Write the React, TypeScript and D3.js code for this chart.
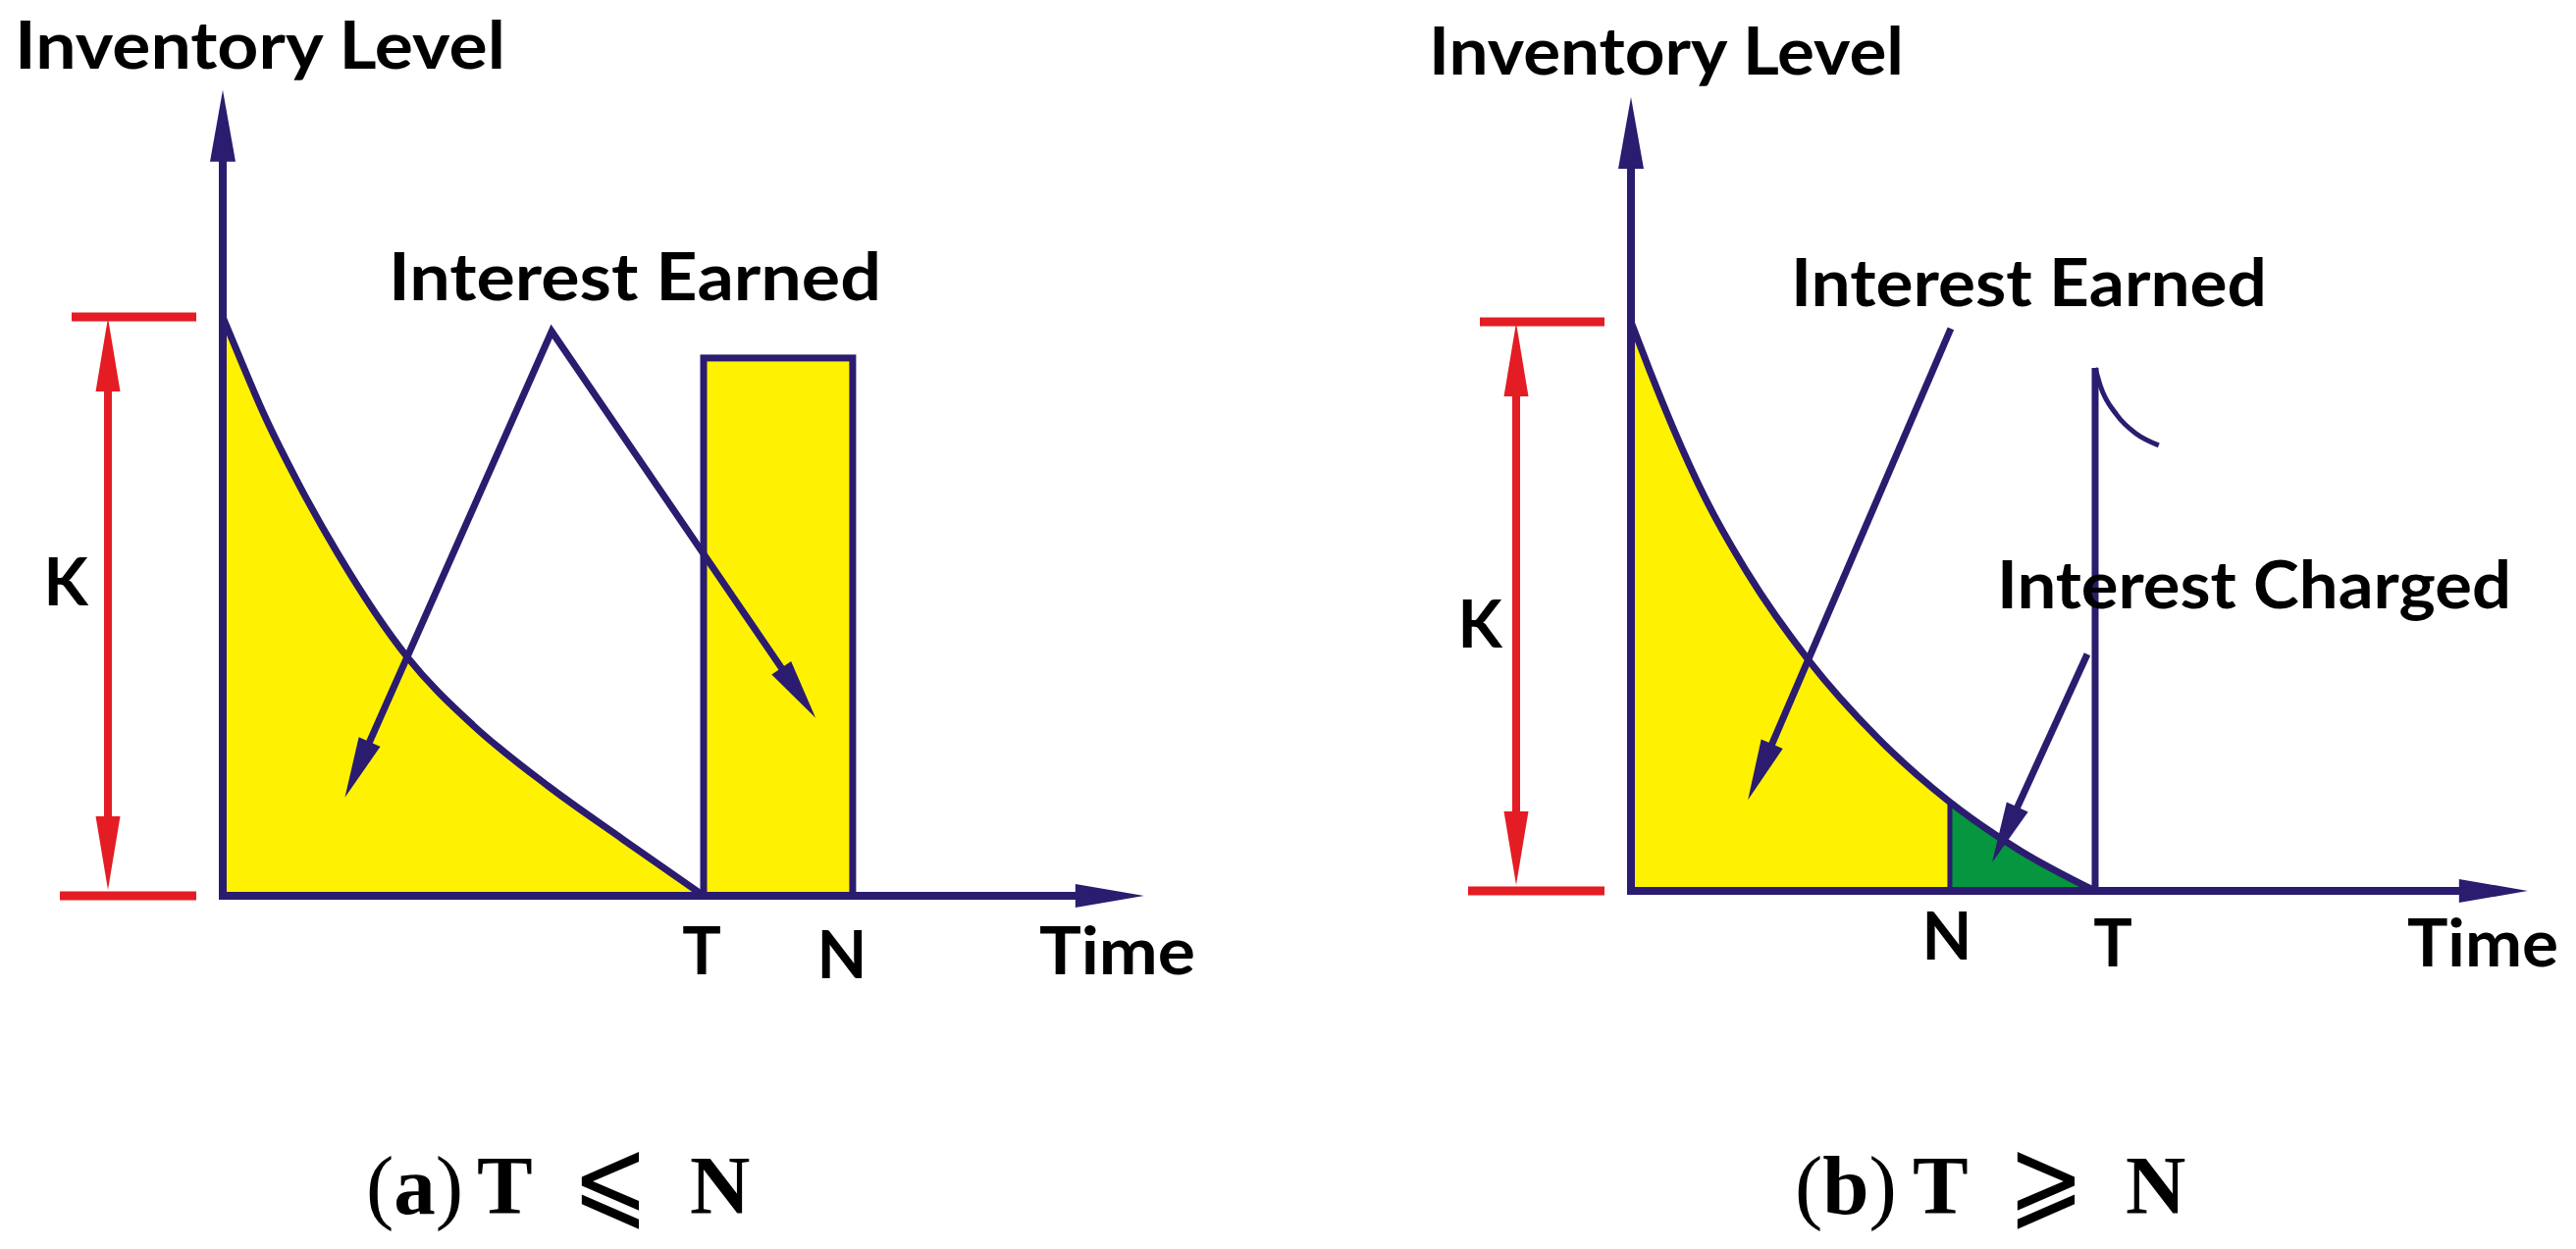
import React from "react";
import * as d3 from "d3";

// ---------- data (time in units of T, level in units of K) ----------
const curveA_time = [0, 0.04, 0.085, 0.16, 0.24, 0.384, 0.52, 0.676, 0.833, 1];
const curveA_level = [1.0, 0.92, 0.833, 0.708, 0.59, 0.412, 0.295, 0.19, 0.097, 0];
const rectA_time = [1, 1.31];
const rectA_level = 0.929;

const curveB_time = [0, 0.04, 0.09, 0.16, 0.25, 0.383, 0.53, 0.687, 0.84, 1];
const curveB_level = [1.0, 0.915, 0.815, 0.69, 0.56, 0.405, 0.27, 0.156, 0.07, 0];
const nextB_time = [1, 1.011, 1.047, 1.089, 1.137];
const nextB_level = [0.919, 0.888, 0.836, 0.803, 0.783];
const tLineB_level = 0.919;
const N_B = 0.687;

// annotation arrows [time, level]
const earnedA_peak = [0.684, 0.975];
const earnedA_tips = [[0.254, 0.17], [1.233, 0.307]];
const earnedB = [[0.689, 0.988], [0.252, 0.16]];
const chargedB = [[0.983, 0.416], [0.778, 0.05]];

const tickLabelsA = ["T", "N"];
const tickLabelsB = ["N", "T"];
const axisMax = { a: [1.916, 1.392], b: [1.932, 1.395] };

// ---------- styles ----------
const NAVY = "#2b1c6f";
const YELLOW = "#fff200";
const GREEN = "#06963f";
const RED = "#e41c23";
const SANS = "Lato, 'Open Sans', sans-serif";
const SERIF = "'Liberation Serif', 'Times New Roman', serif";

function head(x1: number, y1: number, x2: number, y2: number, len: number, hw: number) {
  const dx = x2 - x1, dy = y2 - y1;
  const L = Math.hypot(dx, dy);
  const ux = dx / L, uy = dy / L;
  const bx = x2 - ux * len, by = y2 - uy * len;
  const px = -uy, py = ux;
  return {
    bx: bx + ux * 3,
    by: by + uy * 3,
    pts: `${x2},${y2} ${bx + px * hw},${by + py * hw} ${bx - px * hw},${by - py * hw}`,
  };
}

function Arrow({ x1, y1, x2, y2, color = NAVY, sw = 7, len = 62, hw = 12 }: any) {
  const h = head(x1, y1, x2, y2, len, hw);
  return (
    <g>
      <line x1={x1} y1={y1} x2={h.bx} y2={h.by} stroke={color} strokeWidth={sw} />
      <polygon points={h.pts} fill={color} />
    </g>
  );
}

function Label({ x, y, text, len, anchor = "start" }: any) {
  return (
    <text
      x={x}
      y={y}
      fontFamily={SANS}
      fontWeight={700}
      fontSize={66}
      fill="#000"
      textAnchor={anchor}
      {...(len ? { textLength: len, lengthAdjust: "spacingAndGlyphs" } : {})}
    >
      {text}
    </text>
  );
}

function KBracket({ ax, yTop, yBot, kx, ky }: any) {
  const vx = ax - 117;
  return (
    <g>
      <line x1={ax - 154} x2={ax - 27} y1={yTop} y2={yTop} stroke={RED} strokeWidth={9} />
      <line x1={ax - 166} x2={ax - 27} y1={yBot} y2={yBot} stroke={RED} strokeWidth={9} />
      <line x1={vx} x2={vx} y1={yTop + 60} y2={yBot - 60} stroke={RED} strokeWidth={8} />
      <polygon points={head(vx, yBot, vx, yTop + 1, 75, 12.5).pts} fill={RED} />
      <polygon points={head(vx, yTop, vx, yBot - 6, 75, 12.5).pts} fill={RED} />
      <text x={kx} y={ky} fontFamily={SANS} fontWeight={700} fontSize={66} textAnchor="middle">
        K
      </text>
    </g>
  );
}

function Axes({ x, y, xMax, yMax }: any) {
  const ox = x(0), oy = y(0);
  const yTip = y(yMax), xTip = x(xMax);
  return (
    <g>
      <line x1={ox} y1={oy + 4} x2={ox} y2={yTip + 60} stroke={NAVY} strokeWidth={8} />
      <polygon points={head(ox, oy, ox, yTip, 73, 13).pts} fill={NAVY} />
      <line x1={ox - 4} y1={oy} x2={xTip - 60} y2={oy} stroke={NAVY} strokeWidth={8} />
      <polygon points={head(ox, oy, xTip, oy, 70, 12).pts} fill={NAVY} />
    </g>
  );
}

function PanelA() {
  const x = d3.scaleLinear().domain([0, 1]).range([227, 717]);
  const y = d3.scaleLinear().domain([0, 1]).range([913, 323]);
  const pts: [number, number][] = curveA_time.map((t, i) => [t, curveA_level[i]]);
  const area = d3.area<[number, number]>().x((d) => x(d[0])).y0(y(0)).y1((d) => y(d[1])).curve(d3.curveMonotoneX);
  const line = d3.line<[number, number]>().x((d) => x(d[0])).y((d) => y(d[1])).curve(d3.curveMonotoneX);
  const pk = [x(earnedA_peak[0]), y(earnedA_peak[1])];
  const tips = earnedA_tips.map((d) => [x(d[0]), y(d[1])]);
  const hL = head(pk[0], pk[1], tips[0][0], tips[0][1], 62, 12);
  const hR = head(pk[0], pk[1], tips[1][0], tips[1][1], 62, 12);
  return (
    <g>
      <path d={area(pts) || ""} fill={YELLOW} />
      <rect
        x={x(rectA_time[0])}
        y={y(rectA_level)}
        width={x(rectA_time[1]) - x(rectA_time[0])}
        height={y(0) - y(rectA_level)}
        fill={YELLOW}
        stroke={NAVY}
        strokeWidth={7}
      />
      <path d={line(pts) || ""} fill="none" stroke={NAVY} strokeWidth={7} />
      <Axes x={x} y={y} xMax={axisMax.a[0]} yMax={axisMax.a[1]} />
      <path
        d={`M${hL.bx},${hL.by} L${pk[0]},${pk[1]} L${hR.bx},${hR.by}`}
        fill="none"
        stroke={NAVY}
        strokeWidth={7}
        strokeLinejoin="miter"
      />
      <polygon points={hL.pts} fill={NAVY} />
      <polygon points={hR.pts} fill={NAVY} />
      <KBracket ax={x(0)} yTop={y(1)} yBot={y(0)} kx={67} ky={617} />
      <Label x={15} y={70} text="Inventory Level" len={500} />
      <Label x={396} y={306} text="Interest Earned" len={502} />
      <Label x={x(1) - 2} y={993} text={tickLabelsA[0]} anchor="middle" />
      <Label x={x(rectA_time[1]) - 11} y={997} text={tickLabelsA[1]} anchor="middle" />
      <Label x={1059} y={993} text="Time" len={159} />
    </g>
  );
}

function PanelB() {
  const x = d3.scaleLinear().domain([0, 1]).range([1662, 2135]);
  const y = d3.scaleLinear().domain([0, 1]).range([908, 328]);
  const pts: [number, number][] = curveB_time.map((t, i) => [t, curveB_level[i]]);
  const next: [number, number][] = nextB_time.map((t, i) => [t, nextB_level[i]]);
  const area = d3.area<[number, number]>().x((d) => x(d[0])).y0(y(0)).y1((d) => y(d[1])).curve(d3.curveMonotoneX);
  const line = d3.line<[number, number]>().x((d) => x(d[0])).y((d) => y(d[1])).curve(d3.curveMonotoneX);
  const levelAtN = d3.scaleLinear().domain(curveB_time).range(curveB_level)(N_B);
  return (
    <g>
      <defs>
        <clipPath id="clipYellowB">
          <rect x={0} y={0} width={x(N_B)} height={1273} />
        </clipPath>
        <clipPath id="clipGreenB">
          <rect x={x(N_B)} y={0} width={x(1) - x(N_B) + 10} height={1273} />
        </clipPath>
      </defs>
      <path d={area(pts) || ""} fill={YELLOW} clipPath="url(#clipYellowB)" />
      <path d={area(pts) || ""} fill={GREEN} clipPath="url(#clipGreenB)" />
      <line x1={x(N_B)} x2={x(N_B)} y1={y(0)} y2={y(levelAtN)} stroke={NAVY} strokeWidth={5} />
      <path d={line(pts) || ""} fill="none" stroke={NAVY} strokeWidth={7} />
      <line x1={x(1)} x2={x(1)} y1={y(0)} y2={y(tLineB_level)} stroke={NAVY} strokeWidth={7} />
      <path d={line(next) || ""} fill="none" stroke={NAVY} strokeWidth={5} />
      <Axes x={x} y={y} xMax={axisMax.b[0]} yMax={axisMax.b[1]} />
      <Arrow x1={x(earnedB[0][0])} y1={y(earnedB[0][1])} x2={x(earnedB[1][0])} y2={y(earnedB[1][1])} />
      <Arrow x1={x(chargedB[0][0])} y1={y(chargedB[0][1])} x2={x(chargedB[1][0])} y2={y(chargedB[1][1])} />
      <KBracket ax={x(0)} yTop={y(1)} yBot={y(0)} kx={1508} ky={660} />
      <Label x={1456} y={76} text="Inventory Level" len={484} />
      <Label x={1825} y={312} text="Interest Earned" len={485} />
      <Label x={2035} y={620} text="Interest Charged" len={524} />
      <Label x={x(N_B) - 3} y={978} text={tickLabelsB[0]} anchor="middle" />
      <Label x={x(1) + 18} y={985} text={tickLabelsB[1]} anchor="middle" />
      <Label x={2453} y={985} text="Time" len={154} />
    </g>
  );
}

function Caption({ x0, letter, sym, xs }: any) {
  return (
    <g>
      <text y={1237} fontFamily={SERIF} fontSize={85} fill="#000">
        <tspan x={x0}>(</tspan>
        <tspan fontWeight={700}>{letter}</tspan>
        <tspan>)</tspan>
        <tspan x={xs[0]} fontWeight={700}>T</tspan>
        <tspan x={xs[2]} fontWeight={700}>N</tspan>
      </text>
      <text
        transform={`translate(${xs[1]},1239) scale(0.83,1)`}
        fontFamily="'DejaVu Sans', sans-serif"
        fontSize={112}
        fill="#000"
      >
        {sym}
      </text>
    </g>
  );
}

export default function App() {
  return (
    <svg
      width={2625}
      height={1273}
      viewBox="0 0 2625 1273"
      style={{ position: "absolute", left: 0, top: 0, background: "#fff" }}
    >
      <rect width={2625} height={1273} fill="#fff" />
      <PanelA />
      <PanelB />
      <Caption x0={373} letter="a" sym="⩽" xs={[486, 583, 703]} />
      <Caption x0={1829} letter="b" sym="⩾" xs={[1949, 2046, 2166]} />
    </svg>
  );
}
